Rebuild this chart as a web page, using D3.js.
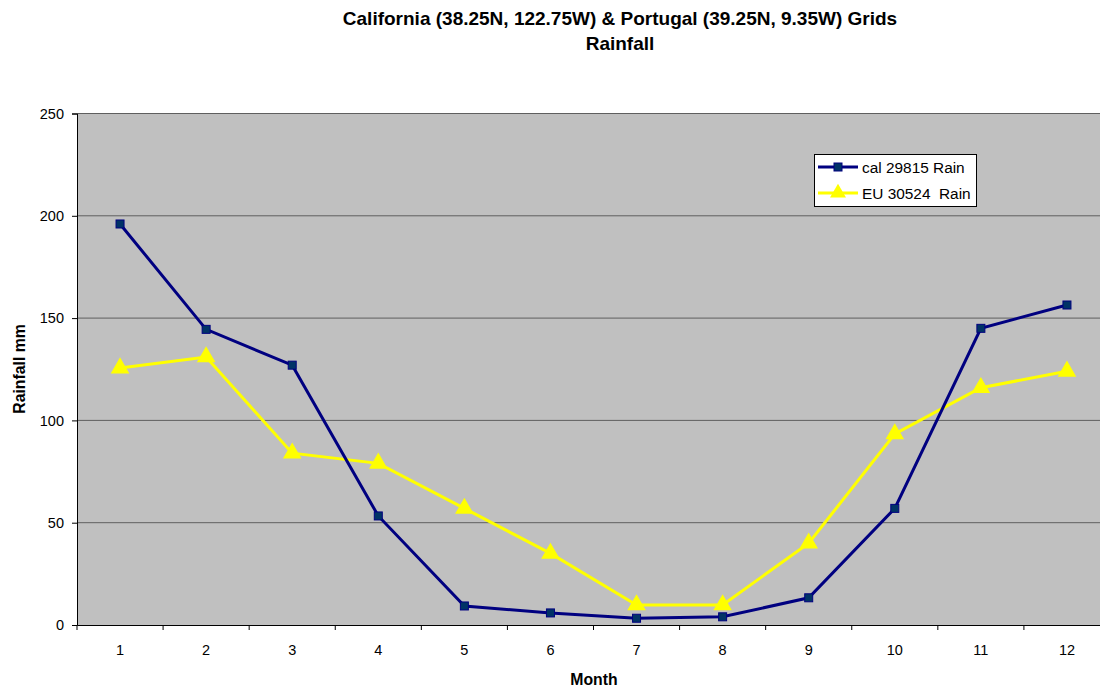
<!DOCTYPE html>
<html><head><meta charset="utf-8">
<script src="https://cdn.jsdelivr.net/npm/d3@7"></script>
<style>body{margin:0;background:#fff;} text{font-family:"Liberation Sans",Arial,sans-serif;}</style>
</head><body>
<svg id="c" width="1100" height="690"></svg>
<script>
const months = [1,2,3,4,5,6,7,8,9,10,11,12];
const calRain = [196,144.5,127,53.3,9.3,5.9,3.3,4,13.3,57,145,156.4];
const euRain = [125.6,131,84,79,57,35,9.8,9.8,40,93.4,116,124];
const yTicks = [0,50,100,150,200,250];
const seriesNames = ["cal 29815 Rain","EU 30524  Rain"];

const svg = d3.select("#c");
const L=77,R=1110,T=113.5,B=625;
const x = d3.scaleBand().domain(months).range([L,R]);
const y = d3.scaleLinear().domain([0,250]).range([B,T]);

svg.append("rect").attr("x",L).attr("y",T).attr("width",R-L).attr("height",B-T).attr("fill","#c0c0c0");
svg.append("g").selectAll("line").data(yTicks.filter(d=>d>0)).join("line")
 .attr("x1",L).attr("x2",R).attr("y1",d=>y(d)).attr("y2",d=>y(d)).attr("stroke","#5f5f5f").attr("stroke-width",1);

const ya = svg.append("g").attr("transform",`translate(${L},0)`).call(d3.axisLeft(y).tickValues(yTicks).tickSize(5).tickPadding(8));
ya.select(".domain").attr("stroke","#000");
ya.selectAll("text").style("font-size","14.5px").attr("fill","#000").style("font-family","Liberation Sans, Arial");
const xa = svg.append("g").attr("transform",`translate(0,${B})`).call(d3.axisBottom(x).tickSize(0).tickPadding(20));
xa.select(".domain").attr("stroke","#000");
xa.selectAll("text").style("font-size","14.5px").attr("fill","#000").style("font-family","Liberation Sans, Arial");
svg.append("g").selectAll("line").data(months.concat([13])).join("line")
 .attr("x1",(d,i)=>L+i*x.bandwidth()).attr("x2",(d,i)=>L+i*x.bandwidth())
 .attr("y1",B).attr("y2",B+5).attr("stroke","#000");

const cx = d=>x(d)+x.bandwidth()/2;
const line = d3.line().x((d,i)=>cx(months[i])).y(d=>y(d));

svg.append("path").datum(euRain).attr("d",line).attr("fill","none").attr("stroke","#ffff00").attr("stroke-width",3);
svg.append("path").datum(calRain).attr("d",line).attr("fill","none").attr("stroke","#000080").attr("stroke-width",3);

const tri = d3.symbol().type(d3.symbolTriangle).size(150);
svg.append("g").selectAll("path").data(euRain).join("path")
 .attr("d",tri).attr("transform",(d,i)=>`translate(${cx(months[i])},${y(d)})`).attr("fill","#ffff00");
svg.append("g").selectAll("rect").data(calRain).join("rect")
 .attr("x",(d,i)=>cx(months[i])-4).attr("y",d=>y(d)-4).attr("width",8).attr("height",8)
 .attr("fill","#003366").attr("stroke","#000080").attr("stroke-width",1);

const lg = svg.append("g");
lg.append("rect").attr("x",814.5).attr("y",154.5).attr("width",162).attr("height",52).attr("fill","#fff").attr("stroke","#000");
lg.append("line").attr("x1",818).attr("x2",858).attr("y1",167).attr("y2",167).attr("stroke","#000080").attr("stroke-width",3);
lg.append("rect").attr("x",834).attr("y",163).attr("width",8).attr("height",8).attr("fill","#003366").attr("stroke","#000080");
lg.append("line").attr("x1",818).attr("x2",858).attr("y1",193).attr("y2",193).attr("stroke","#ffff00").attr("stroke-width",3);
lg.append("path").attr("d",d3.symbol().type(d3.symbolTriangle).size(110)).attr("transform","translate(838,193)").attr("fill","#ffff00");
lg.selectAll("text.l").data(seriesNames).join("text").attr("class","l")
 .attr("x",862).attr("y",(d,i)=>172.5+i*26).attr("font-size",15.4).attr("fill","#000").style("white-space","pre").text(d=>d);

svg.append("text").attr("x",620).attr("y",25).attr("text-anchor","middle").attr("font-size",19).attr("font-weight","bold").text("California (38.25N, 122.75W) & Portugal (39.25N, 9.35W) Grids");
svg.append("text").attr("x",620).attr("y",50).attr("text-anchor","middle").attr("font-size",19).attr("font-weight","bold").text("Rainfall");
svg.append("text").attr("x",594).attr("y",685).attr("text-anchor","middle").attr("font-size",15.8).attr("font-weight","bold").text("Month");
svg.append("text").attr("transform","translate(25,369) rotate(-90)").attr("text-anchor","middle").attr("font-size",15.8).attr("font-weight","bold").text("Rainfall mm");
</script>
</body></html>
